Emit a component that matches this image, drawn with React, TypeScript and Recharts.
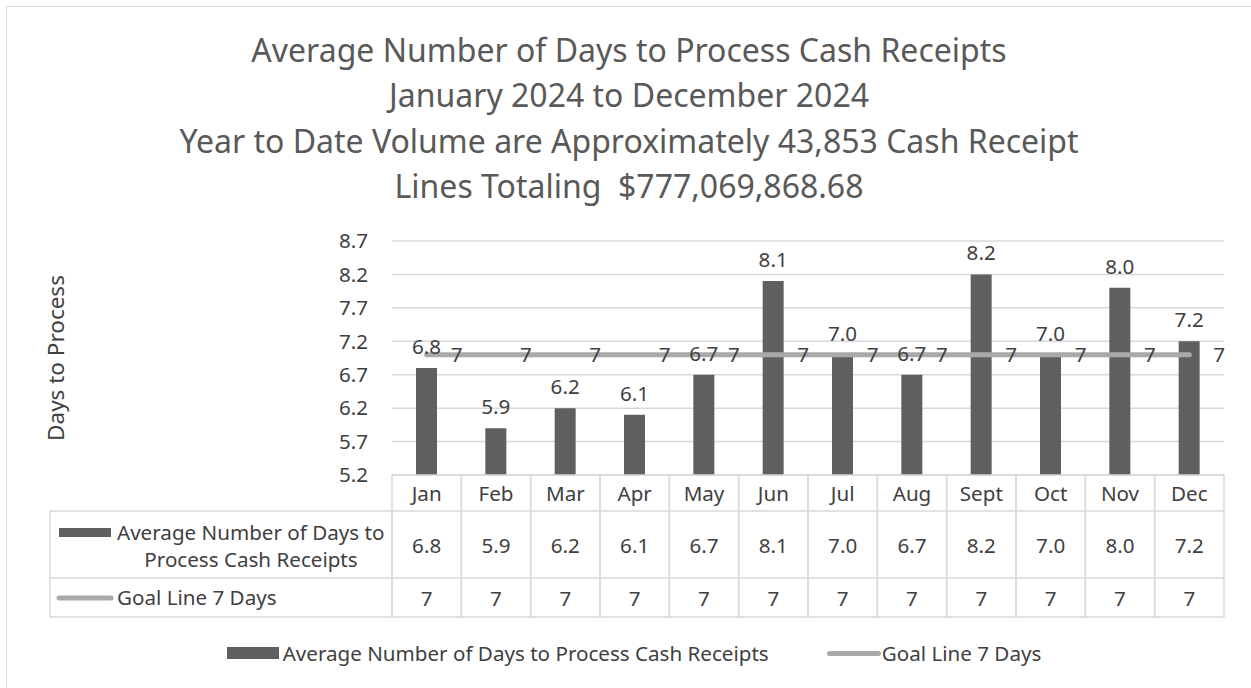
import React from "react";
import {
  ComposedChart,
  Bar,
  Line,
  XAxis,
  YAxis,
  CartesianGrid,
  LabelList,
  Legend,
} from "recharts";

// chart values
const months = ["Jan", "Feb", "Mar", "Apr", "May", "Jun", "Jul", "Aug", "Sept", "Oct", "Nov", "Dec"];
const avgDays = [6.8, 5.9, 6.2, 6.1, 6.7, 8.1, 7.0, 6.7, 8.2, 7.0, 8.0, 7.2];
const goalDays = [7, 7, 7, 7, 7, 7, 7, 7, 7, 7, 7, 7];
const yTicks = [5.2, 5.7, 6.2, 6.7, 7.2, 7.7, 8.2, 8.7];

const titleLines = [
  "Average Number of Days to Process Cash Receipts",
  "January 2024 to December 2024",
  "Year to Date Volume are Approximately 43,853 Cash Receipt",
  "Lines Totaling  $777,069,868.68",
];
const avgName = "Average Number of Days to Process Cash Receipts";
const goalName = "Goal Line 7 Days";

const data = months.map((m, i) => ({ month: m, avg: avgDays[i], goal: goalDays[i] }));

// layout
const W = 1251;
const H = 688;
const FONT = "'Noto Sans', 'Open Sans', sans-serif";
const MARGIN = { top: 241, right: 27, bottom: 20, left: 40 };
const Y_AXIS_W = 352;
const LEGEND_H = 30;
const X_AXIS_H = H - MARGIN.top - 234 - MARGIN.bottom - LEGEND_H;
const PLOT_W = W - MARGIN.left - Y_AXIS_W - MARGIN.right;
const HEAD_H = 36;
const ROW1_H = 67;
const ROW2_H = 39;
const LEG_COL_X = 50;

const BAR_COLOR = "#5f5f5f";
const GOAL_COLOR = "#a9a9a9";
const GRID = "#d9d9d9";
const TEXT = "#404040";
const TEXT_SIZE = 20.6;

const TableTick = (props: any) => {
  const { x, y, payload } = props;
  const i = payload?.index ?? props.index ?? 0;
  const bw = PLOT_W / months.length;
  const left = x - bw / 2;
  const r1 = y + HEAD_H;
  const r2 = r1 + ROW1_H;
  const bottom = r2 + ROW2_H;
  const plotLeft = x - bw / 2;
  return (
    <g fontFamily={FONT} fontSize={TEXT_SIZE} fill={TEXT}>
      <rect x={left} y={y} width={bw} height={bottom - y} fill="none" stroke={GRID} strokeWidth={1.5} />
      <line x1={left} x2={left + bw} y1={r1} y2={r1} stroke={GRID} strokeWidth={1.5} />
      <line x1={left} x2={left + bw} y1={r2} y2={r2} stroke={GRID} strokeWidth={1.5} />
      <text x={x} y={y + HEAD_H / 2} textAnchor="middle" dominantBaseline="central">
        {payload.value}
      </text>
      <text x={x} y={r1 + ROW1_H / 2} textAnchor="middle" dominantBaseline="central">
        {avgDays[i].toFixed(1)}
      </text>
      <text x={x} y={r2 + ROW2_H / 2} textAnchor="middle" dominantBaseline="central">
        {goalDays[i]}
      </text>
      {i === 0 && (
        <g>
          <rect x={LEG_COL_X} y={r1} width={plotLeft - LEG_COL_X} height={bottom - r1} fill="none" stroke={GRID} strokeWidth={1.5} />
          <line x1={LEG_COL_X} x2={plotLeft} y1={r2} y2={r2} stroke={GRID} strokeWidth={1.5} />
          <rect x={LEG_COL_X + 9} y={r1 + 17} width={52} height={9} fill={BAR_COLOR} />
          <text x={LEG_COL_X + 67} y={r1 + 21} dominantBaseline="central">
            Average Number of Days to
          </text>
          <text x={251} y={r1 + 48} textAnchor="middle" dominantBaseline="central">
            Process Cash Receipts
          </text>
          <line x1={LEG_COL_X + 9} x2={LEG_COL_X + 61} y1={r2 + 20} y2={r2 + 20} stroke={GOAL_COLOR} strokeWidth={5} strokeLinecap="round" />
          <text x={LEG_COL_X + 67} y={r2 + 19} dominantBaseline="central">
            {goalName}
          </text>
        </g>
      )}
    </g>
  );
};

const renderYLabel = (props: any) => {
  const vb = props.viewBox || {};
  const cx = vb.x + 15;
  const cy = vb.y + vb.height / 2;
  return (
    <text
      x={cx}
      y={cy}
      transform={`rotate(-90 ${cx} ${cy})`}
      textAnchor="middle"
      dominantBaseline="central"
      fontFamily={FONT}
      fontSize={22.5}
      fill={TEXT}
    >
      Days to Process
    </text>
  );
};

const BottomLegend = () => (
  <div
    style={{
      height: LEGEND_H,
      display: "flex",
      justifyContent: "center",
      alignItems: "center",
      fontFamily: FONT,
      fontSize: TEXT_SIZE,
      color: TEXT,
      whiteSpace: "nowrap",
      paddingLeft: 4,
    }}
  >
    <span style={{ display: "inline-block", width: 52, height: 12, background: BAR_COLOR, marginRight: 4 }} />
    <span>{avgName}</span>
    <span
      style={{
        display: "inline-block",
        width: 54,
        height: 5,
        borderRadius: 3,
        background: GOAL_COLOR,
        marginLeft: 58,
        marginRight: 1,
      }}
    />
    <span>{goalName}</span>
  </div>
);

export default function App() {
  return (
    <div style={{ position: "absolute", left: 0, top: 0, width: W, height: H, overflow: "hidden", background: "#fff" }}>
      <div
        style={{
          position: "absolute",
          left: 6,
          top: 6,
          width: W + 20,
          height: H + 20,
          border: `1.5px solid ${GRID}`,
          boxSizing: "border-box",
        }}
      />
      <div
        style={{
          position: "absolute",
          left: 6,
          top: 27,
          width: 1246,
          textAlign: "center",
          fontFamily: FONT,
          fontSize: 32,
          lineHeight: "45.3px",
          color: "#595959",
        }}
      >
        {titleLines.map((t) => (
          <div key={t} style={{ whiteSpace: "pre" }}>
            {t}
          </div>
        ))}
      </div>
      <ComposedChart width={W} height={H} data={data} margin={MARGIN} barCategoryGap={0}>
        <CartesianGrid vertical={false} stroke={GRID} strokeWidth={1.5} />
        <XAxis
          dataKey="month"
          height={X_AXIS_H}
          axisLine={false}
          tickLine={false}
          tickSize={0}
          tickMargin={0}
          interval={0}
          tick={<TableTick />}
        />
        <YAxis
          width={Y_AXIS_W}
          domain={[5.2, 8.7]}
          ticks={yTicks}
          allowDataOverflow
          axisLine={false}
          tickLine={false}
          tickSize={0}
          tickMargin={24}
          tickFormatter={(v: number) => v.toFixed(1)}
          tick={{ fill: TEXT, fontSize: TEXT_SIZE, fontFamily: FONT }}
          label={renderYLabel}
        />
        <Legend verticalAlign="bottom" height={LEGEND_H} content={<BottomLegend />} />
        <Bar dataKey="avg" name={avgName} fill={BAR_COLOR} barSize={21} isAnimationActive={false}>
          <LabelList
            dataKey="avg"
            position="top"
            offset={14}
            formatter={(v: any) => Number(v).toFixed(1)}
            fill={TEXT}
            fontSize={TEXT_SIZE}
            fontFamily={FONT}
          />
        </Bar>
        <Line
          dataKey="goal"
          name={goalName}
          stroke={GOAL_COLOR}
          strokeWidth={5}
          strokeLinecap="round"
          dot={false}
          activeDot={false}
          isAnimationActive={false}
        >
          <LabelList dataKey="goal" position="right" offset={24} fill={TEXT} fontSize={TEXT_SIZE} fontFamily={FONT} />
        </Line>
      </ComposedChart>
    </div>
  );
}
